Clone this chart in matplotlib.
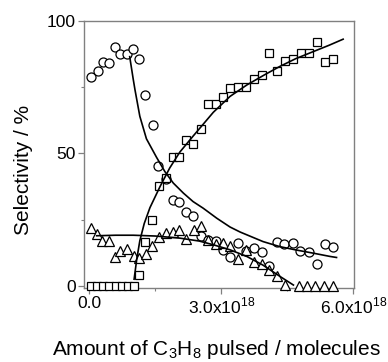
import numpy as np
import matplotlib
matplotlib.use("Agg")
import matplotlib.pyplot as plt
from matplotlib.ticker import FixedLocator, FixedFormatter

plt.rcParams['font.family'] = ['Liberation Sans', 'DejaVu Sans']
plt.rcParams['mathtext.fontset'] = 'custom'
plt.rcParams['mathtext.rm'] = 'Liberation Sans'

# Data (x in units of 1e18 molecules)
circle_x = [0.05, 0.19, 0.32, 0.45, 0.58, 0.70, 0.86, 1.00, 1.14, 1.27, 1.44,
            1.57, 1.74, 1.90, 2.05, 2.20, 2.36, 2.53, 2.70, 2.88, 3.05, 3.21,
            3.39, 3.56, 3.74, 3.92, 4.09, 4.26, 4.43, 4.62, 4.80, 5.00, 5.17,
            5.35, 5.53]
circle_y = [79.0, 81.1, 84.3, 84.0, 90.2, 87.5, 87.4, 89.5, 85.8, 72.2, 60.7,
            45.3, 40.4, 32.5, 31.6, 28.0, 26.5, 18.9, 17.2, 17.1, 13.6, 10.8,
            16.0, 13.3, 14.1, 12.8, 7.3, 16.5, 15.7, 16.2, 13.2, 12.6, 8.4,
            15.8, 14.6]

square_x = [0.03, 0.17, 0.31, 0.45, 0.60, 0.74, 0.88, 1.02, 1.14, 1.27, 1.43,
            1.58, 1.74, 1.90, 2.05, 2.21, 2.36, 2.53, 2.70, 2.87, 3.05, 3.21,
            3.39, 3.56, 3.74, 3.92, 4.09, 4.27, 4.45, 4.64, 4.81, 5.00, 5.17,
            5.36, 5.53]
square_y = [0, 0, 0, 0, 0, 0, 0, 0, 4.2, 16.7, 24.8,
            37.7, 40.6, 48.6, 48.6, 55.1, 53.5, 59.1, 68.7, 68.6, 71.4, 74.6,
            75.0, 75.2, 78.2, 79.6, 87.8, 81.1, 85.0, 85.8, 87.7, 87.8, 92.1,
            84.5, 85.7]

tri_x = [0.04, 0.18, 0.30, 0.45, 0.58, 0.71, 0.86, 1.01, 1.14, 1.29, 1.43,
         1.59, 1.74, 1.90, 2.05, 2.21, 2.37, 2.53, 2.70, 2.88, 3.05, 3.21,
         3.39, 3.56, 3.74, 3.92, 4.09, 4.26, 4.45, 4.77, 4.96, 5.14, 5.33,
         5.53]
tri_y = [21.8, 19.6, 17.1, 17.1, 10.7, 13.3, 13.8, 11.1, 10.6, 12.1, 15.2,
         18.4, 19.9, 20.5, 21.1, 17.6, 21.0, 22.6, 17.2, 15.7, 16.1, 15.2,
         10.2, 13.6, 9.1, 8.3, 5.8, 3.8, 0.3, 0, 0, 0, 0,
         0]

# fitted curves
decay_x = [0.92, 1.00, 1.04, 1.15, 1.30, 1.53, 1.72, 1.91, 2.14, 2.36, 2.59,
           2.90, 3.20, 3.43, 3.95, 4.33, 4.71, 5.10, 5.47, 5.62]
decay_y = [86.5, 78.0, 74.0, 64.0, 55.5, 48.5, 43.1, 38.8, 35.0, 31.8, 29.3,
           25.5, 22.2, 20.3, 16.7, 14.8, 13.5, 12.3, 11.1, 10.7]

rise_x = [1.02, 1.08, 1.15, 1.25, 1.38, 1.61, 1.83, 2.06, 2.36, 2.82, 3.20,
          3.58, 4.00, 4.33, 4.70, 5.09, 5.45, 5.77]
rise_y = [2.5, 10.0, 17.0, 23.5, 29.5, 37.5, 44.5, 50.5, 56.5, 65.5, 71.5,
          75.8, 79.8, 82.8, 85.8, 88.4, 90.8, 93.1]

flat_x = [0.17, 0.60, 1.00, 1.50, 2.06, 2.50, 2.82, 3.20, 3.58, 3.95, 4.33, 4.64]
flat_y = [18.9, 19.1, 19.1, 18.8, 18.0, 16.9, 15.5, 13.6, 11.1, 7.8, 3.6, 0.3]

xtick_vals = [0, 3e18, 6e18]
xtick_labels = ['0.0', r'3.0x10$^{18}$', r'6.0x10$^{18}$']

scale = 1e18

fig = plt.figure(figsize=(3.88, 3.62), dpi=100)
ax = fig.add_axes([0.217, 0.2053, 0.6946, 0.7377])

mk = dict(linestyle='none', markerfacecolor='white', markeredgecolor='black',
          markeredgewidth=0.9, clip_on=False, zorder=3)
ax.plot(np.array(circle_x) * scale, circle_y, marker='o', markersize=6.5, **mk)
ax.plot(np.array(square_x) * scale, square_y, marker='s', markersize=5.8, **mk)
ax.plot(np.array(tri_x) * scale, tri_y, marker='^', markersize=7.0, **mk)

ax.plot(np.array(decay_x) * scale, decay_y, color='black', lw=1.2, zorder=4)
ax.plot(np.array(rise_x) * scale, rise_y, color='black', lw=1.2, zorder=4)
ax.plot(np.array(flat_x) * scale, flat_y, color='black', lw=1.2, zorder=4)

ax.set_xlim(-0.114e18, 6.01e18)
ax.set_ylim(-0.7, 100.1)

ax.xaxis.set_major_locator(FixedLocator(xtick_vals))
ax.xaxis.set_major_formatter(FixedFormatter(xtick_labels))
ax.xaxis.set_minor_locator(FixedLocator([1.5e18, 4.5e18]))
ax.yaxis.set_major_locator(FixedLocator([0, 50, 100]))
ax.yaxis.set_minor_locator(FixedLocator([25, 75]))

for s in ax.spines.values():
    s.set_color('#808080')
    s.set_linewidth(1.0)

ax.tick_params(which='major', direction='out', length=4, width=0.9,
               color='#808080', labelsize=12.5, pad=2)
ax.tick_params(which='minor', direction='out', length=2.5, width=0.8,
               color='#808080')

ax.set_xlabel(r'Amount of C$_3$H$_8$ pulsed / molecules', fontsize=15)
ax.xaxis.set_label_coords(0.49, -0.19)
ax.set_ylabel('Selectivity / %', fontsize=15)
ax.yaxis.set_label_coords(-0.19, 0.44)

fig.savefig('out.png', dpi=100)
